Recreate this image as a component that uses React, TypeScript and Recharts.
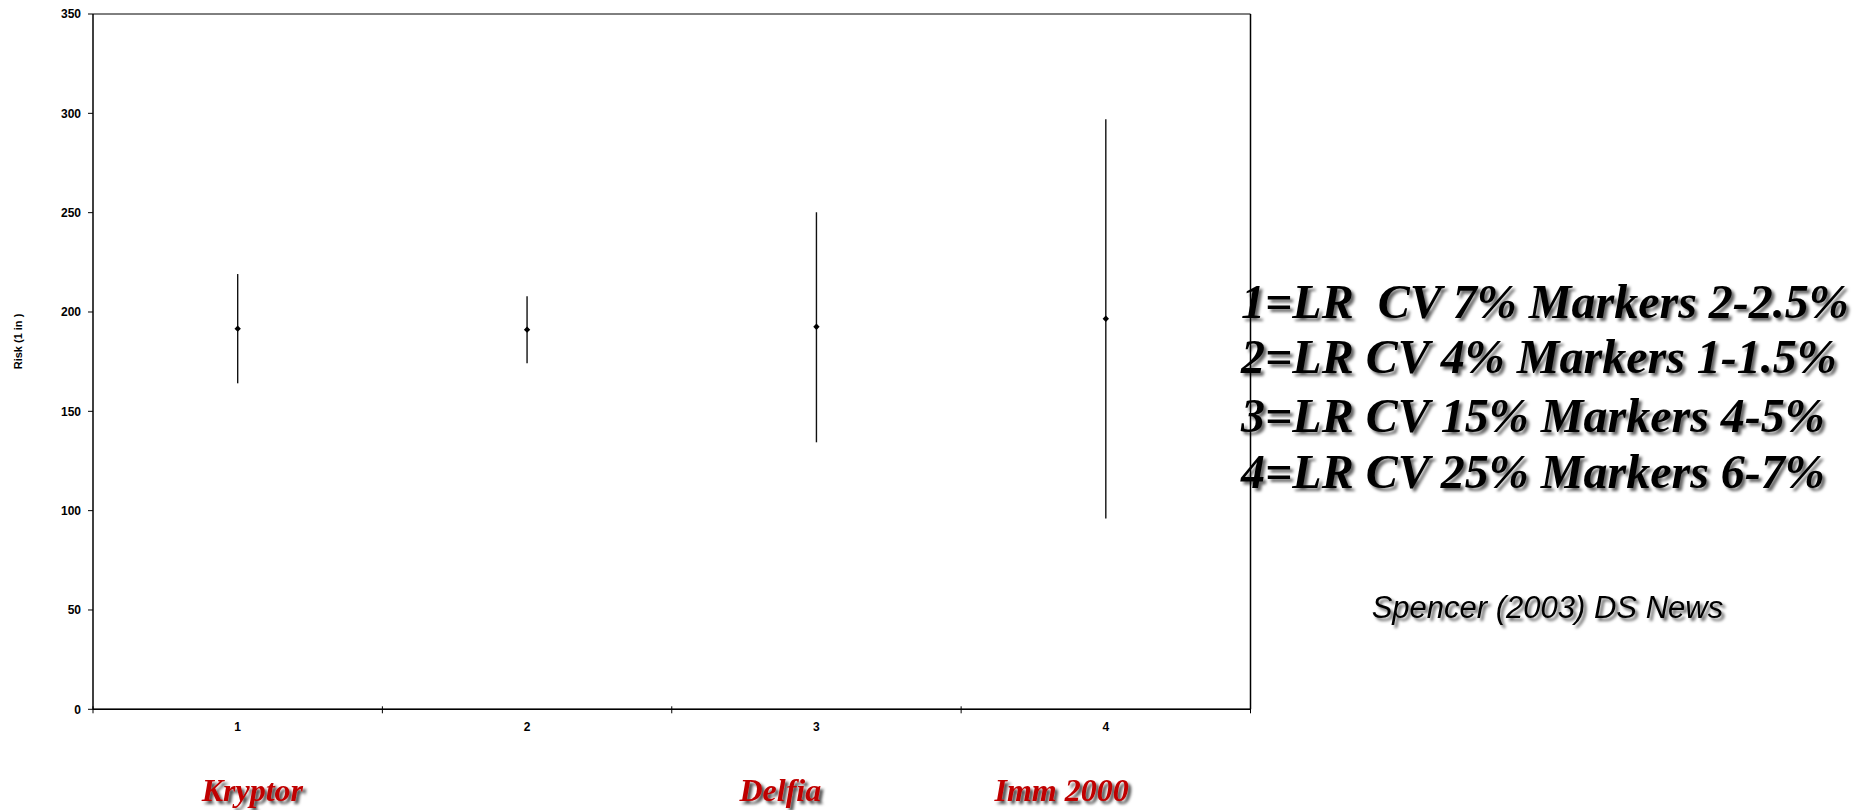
import React from "react";
import { ComposedChart, Scatter, ErrorBar, XAxis, YAxis, CartesianGrid, ReferenceLine } from "recharts";

const categories = ["1", "2", "3", "4"];
const riskMean = [191.6, 191.1, 192.6, 196.6];
const riskLow = [164.1, 174.2, 134.4, 96.1];
const riskHigh = [219.1, 207.9, 250.2, 297.0];
const yTicks = [0, 50, 100, 150, 200, 250, 300, 350];

const assayNames = ["Kryptor", "Delfia", "Imm 2000"];
const legendLines = [
  "1=LR  CV 7% Markers 2-2.5%",
  "2=LR CV 4% Markers 1-1.5%",
  "3=LR CV 15% Markers 4-5%",
  "4=LR CV 25% Markers 6-7%",
];
const sourceNote = "Spencer (2003) DS News";

const data = categories.map((c, i) => ({
  x: i + 1,
  label: c,
  y: riskMean[i],
  err: [riskMean[i] - riskLow[i], riskHigh[i] - riskMean[i]],
}));

const xTicks: number[] = [];
for (let i = 0; i <= categories.length * 2; i++) xTicks.push(0.5 + i * 0.5);

const W = 1871;
const H = 810;

const XTick = (props: any) => {
  const { x, y, payload } = props;
  const v = payload.value as number;
  if (Math.abs(v - Math.round(v)) < 1e-6) {
    const lab = categories[Math.round(v) - 1] ?? "";
    return (
      <text x={x} y={y + 21.5} textAnchor="middle" fontFamily="'Liberation Sans', Arial, sans-serif" fontWeight="bold" fontSize={12} fill="#000">
        {lab}
      </text>
    );
  }
  return <line x1={x} x2={x} y1={y - 3} y2={y + 4} stroke="#000" strokeWidth={1} />;
};

const Dot = (props: any) => {
  const { cx, cy } = props;
  const r = 3.2;
  return <path d={`M${cx},${cy - r}L${cx + r},${cy}L${cx},${cy + r}L${cx - r},${cy}Z`} fill="#000" />;
};

const YLabel = () => {
  const cx = 18;
  const cy = 341.5;
  return (
    <text x={cx} y={cy} transform={`rotate(-90, ${cx}, ${cy})`} textAnchor="middle" dy="0.35em" fontFamily="'Liberation Sans', Arial, sans-serif" fontWeight="bold" fontSize={11} fill="#000">
      Risk (1 in )
    </text>
  );
};

const assayPos = [
  { x: 201.7, y: 801 },
  { x: 739.5, y: 801 },
  { x: 994.5, y: 801 },
];
const legendPos = { x: 1241, ys: [318.3, 373.3, 431.7, 488.3] };

export default function App() {
  return (
    <div style={{ position: "absolute", left: 0, top: 0, width: W, height: H, background: "#fff" }}>
      <div style={{ position: "absolute", left: 0, top: 0 }}>
        <ComposedChart width={W} height={H} data={data} margin={{ top: 14, right: 620.5, bottom: 70.7, left: 0 }}>
          <CartesianGrid vertical={false} stroke="#000" strokeWidth={1} />
          <XAxis
            dataKey="x"
            type="number"
            domain={[0.5, 4.5]}
            ticks={xTicks}
            interval={0}
            height={30}
            tickLine={false}
            tickSize={0}
            tickMargin={0}
            axisLine={{ stroke: "#000", strokeWidth: 1.5 }}
            tick={<XTick />}
            allowDecimals
          />
          <YAxis
            yAxisId="left"
            type="number"
            domain={[0, 350]}
            ticks={yTicks}
            interval={0}
            width={93}
            tickSize={5}
            tickMargin={7}
            tickLine={{ stroke: "#000" }}
            axisLine={{ stroke: "#000", strokeWidth: 1.5 }}
            tick={{ fontFamily: "'Liberation Sans', Arial, sans-serif", fontWeight: "bold", fontSize: 12, fill: "#000" }}
            label={<YLabel />}
          />
          <ReferenceLine yAxisId="left" x={4.5} stroke="#000" strokeWidth={1.5} ifOverflow="visible" />
          <Scatter yAxisId="left" dataKey="y" fill="#000" shape={<Dot />} isAnimationActive={false}>
            <ErrorBar dataKey="err" direction="y" width={0} stroke="#111" strokeWidth={1.4} isAnimationActive={false} />
          </Scatter>
        </ComposedChart>
      </div>
      <svg width={W} height={H} style={{ position: "absolute", left: 0, top: 0, pointerEvents: "none" }}>
        <defs>
          <filter id="shadowBlack" x="-10%" y="-30%" width="130%" height="180%">
            <feDropShadow dx="3" dy="3" stdDeviation="1.8" floodColor="#000" floodOpacity="0.6" />
          </filter>
          <filter id="shadowRed" x="-10%" y="-30%" width="130%" height="180%">
            <feDropShadow dx="3" dy="3" stdDeviation="1.5" floodColor="#000" floodOpacity="0.7" />
          </filter>
        </defs>
        {assayNames.map((n, i) => (
          <text key={n} x={assayPos[i].x} y={assayPos[i].y} fontFamily="'Liberation Serif', 'Times New Roman', serif" fontStyle="italic" fontWeight="bold" fontSize={32} fill="#c00000" filter="url(#shadowRed)">
            {n}
          </text>
        ))}
        {legendLines.map((l, i) => (
          <text key={i} x={legendPos.x} y={legendPos.ys[i]} fontFamily="'Liberation Serif', 'Times New Roman', serif" fontStyle="italic" fontWeight="bold" fontSize={48} fill="#000" filter="url(#shadowBlack)" style={{ whiteSpace: "pre" }}>
            {l}
          </text>
        ))}
        <text x={1371.7} y={618.3} fontFamily="'Liberation Sans', Arial, sans-serif" fontStyle="italic" fontSize={31} fill="#000" filter="url(#shadowBlack)">
          {sourceNote}
        </text>
      </svg>
    </div>
  );
}
